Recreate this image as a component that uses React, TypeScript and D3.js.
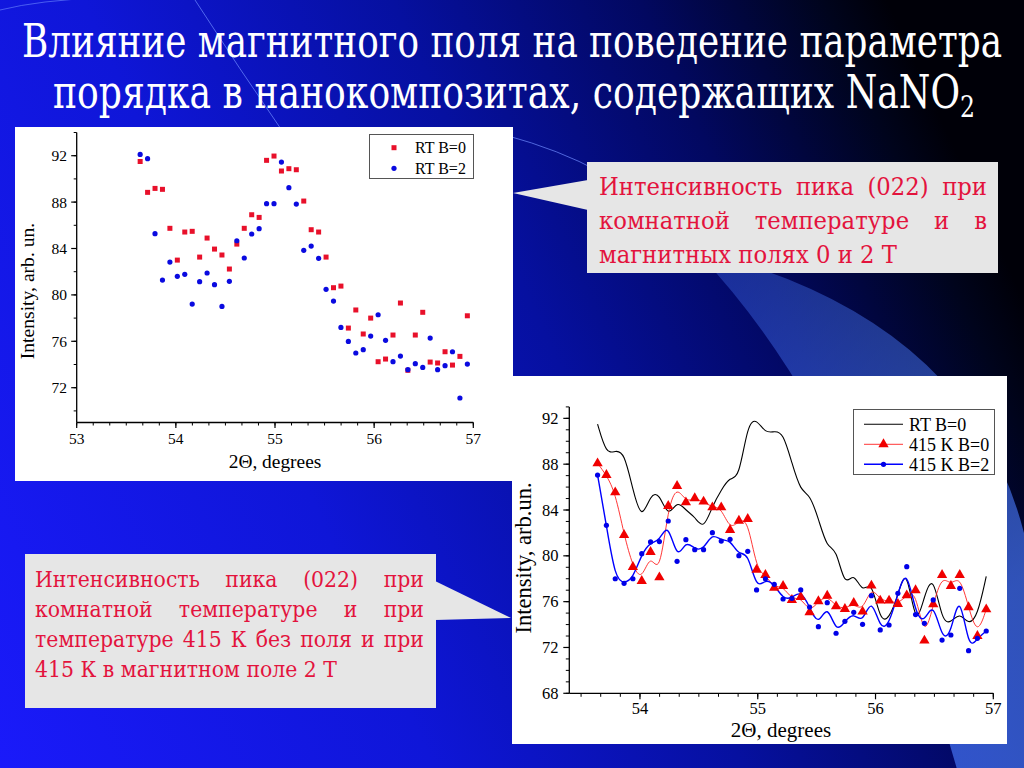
import { useLayoutEffect, useRef, useState } from "react"
import * as d3 from "d3"

// 2Θ positions shared by all series (degrees)
const twoTheta = [
  53.64, 53.715, 53.79, 53.865, 53.94, 54.015, 54.09, 54.165, 54.24, 54.315,
  54.39, 54.465, 54.54, 54.615, 54.69, 54.765, 54.84, 54.915, 54.99, 55.065,
  55.14, 55.215, 55.29, 55.365, 55.44, 55.515, 55.59, 55.665, 55.74, 55.815,
  55.89, 55.965, 56.04, 56.115, 56.19, 56.265, 56.34, 56.415, 56.49, 56.565,
  56.64, 56.715, 56.79, 56.865, 56.94,
]

// room temperature, B = 0
const rtB0 = [
  91.5, 88.84, 89.18, 89.1, 85.74, 83.0, 85.42, 85.48, 83.26, 84.9,
  83.95, 83.44, 82.23, 84.38, 85.74, 86.91, 86.68, 91.6, 91.97, 90.68,
  90.88, 90.79, 88.09, 85.62, 85.42, 83.26, 80.62, 80.76, 77.14, 78.7,
  76.63, 78.0, 74.24, 74.47, 76.54, 79.3, 73.5, 76.54, 78.5, 74.21,
  74.13, 75.1, 73.95, 74.7, 78.2,
]

// room temperature, B = 2
const rtB2 = [
  92.11, 91.74, 85.28, 81.28, 82.83, 81.6, 81.77, 79.21, 81.14, 81.89,
  80.88, 79.01, 81.17, 84.67, 83.18, 85.25, 85.71, 87.86, 87.86, 91.45,
  89.24, 87.83, 83.84, 84.21, 83.15, 80.48, 79.47, 77.2, 75.99, 74.99,
  75.28, 76.45, 78.29, 76.08, 74.24, 74.73, 73.55, 74.07, 73.75, 76.28,
  73.55, 73.9, 75.1, 71.11, 74.04,
]

// 415 K, B = 0
const k415B0 = [
  88.07, 87.05, 85.54, 81.82, 79.03, 77.8, 80.33, 78.12, 84.35, 86.09,
  84.67, 85.02, 84.73, 84.23, 84.23, 82.25, 83.07, 83.21, 78.79, 78.33,
  77.22, 77.37, 76.15, 76.41, 75.07, 76.03, 76.52, 75.59, 75.36, 75.88,
  75.13, 77.4, 76.09, 76.09, 75.8, 76.55, 76.99, 72.6, 75.77, 78.33,
  77.37, 78.33, 75.51, 73.0, 75.33,
]

// 415 K, B = 2
const k415B2 = [
  87.05, 82.66, 78.0, 77.6, 78.0, 80.19, 81.21, 81.24, 83.04, 79.52,
  81.41, 80.54, 80.54, 82.02, 81.29, 81.44, 80.01, 80.39, 77.02, 78.0,
  77.51, 76.23, 76.29, 77.02, 75.53, 73.82, 75.91, 73.24, 74.28, 75.07,
  74.02, 76.52, 73.53, 73.96, 76.73, 79.05, 74.87, 74.11, 76.15, 72.65,
  73.09, 77.16, 71.72, 72.8, 73.44,
]

const xTicks1 = [53, 54, 55, 56, 57]
const yTicks1 = [72, 76, 80, 84, 88, 92]
const xTicks2 = [54, 55, 56, 57]
const yTicks2 = [68, 72, 76, 80, 84, 88, 92]

const titleLine1 = "Влияние магнитного поля на поведение параметра"
const titleLine2 = "порядка в нанокомпозитах, содержащих NaNO"

const noteRight = ["Интенсивность пика (022) при", "комнатной температуре и в", "магнитных полях 0 и 2 Т"]
const noteLeft = [
  "Интенсивность пика (022) при",
  "комнатной температуре и при",
  "температуре 415 К без поля и при",
  "415 К в магнитном поле 2 Т",
]

// Liberation Serif here has no Cyrillic, so Russian text goes in DejaVu Serif
const serif = "Liberation Serif, serif"
const cyrSerif = "DejaVu Serif"
const noteRed = "#e3133d"
const noteGray = "#e6e6e6"

interface JustifiedProps {
  lines: string[]
  x0: number
  x1: number
  y0: number
  lineHeight: number
  size: number
  lastWidth: number
}

// paragraph with justified lines (last line left aligned), squeezed so the
// last line has the width it has on the slide
const Justified = ({ lines, x0, x1, y0, lineHeight, size, lastWidth }: JustifiedProps) => {
  const ref = useRef<SVGGElement | null>(null)
  const [layout, setLayout] = useState<{ sx: number; pos: number[][] } | null>(null)

  useLayoutEffect(() => {
    if (!ref.current) return
    const texts = Array.from(ref.current.querySelectorAll("text"))
    const space = size * 0.318
    const widths = texts.map((t) =>
      (Array.from(t.querySelectorAll("tspan")) as SVGTSpanElement[]).map((s) => s.getComputedTextLength()),
    )
    const lastW = widths[widths.length - 1]
    const natural = d3.sum(lastW) + space * (lastW.length - 1)
    const sx = lastWidth / natural
    const localW = (x1 - x0) / sx
    const pos = widths.map((ws, li) => {
      const last = li === lines.length - 1
      const gap = last || ws.length < 2 ? space : (localW - d3.sum(ws)) / (ws.length - 1)
      let x = 0
      return ws.map((w) => {
        const p = x
        x += w + gap
        return p
      })
    })
    setLayout({ sx, pos })
  }, [lines, x0, x1, size, lastWidth])

  return (
    <g
      ref={ref}
      transform={`translate(${x0},0) scale(${layout ? layout.sx : 1},1)`}
      style={{ fontFamily: cyrSerif }}
      fontSize={size}
      fill={noteRed}
    >
      {lines.map((line, li) => (
        <text key={li} y={y0 + li * lineHeight}>
          {line.split(" ").map((w, wi) => (
            <tspan key={wi} x={layout ? layout.pos[li][wi] : wi * 60}>
              {w}
            </tspan>
          ))}
        </text>
      ))}
    </g>
  )
}

const App = () => {
  // left chart scales
  const xs1 = d3.scaleLinear().domain([53, 57]).range([76.7, 473.3])
  const ys1 = d3.scaleLinear().domain([69, 94]).range([422.5, 132.5])
  // right chart scales
  const xs2 = d3.scaleLinear().domain([53.4, 57]).range([569.3, 993.3])
  const ys2 = d3.scaleLinear().domain([68, 93]).range([693.3, 406.9])

  const minorX1 = d3.range(0, 25).map((i) => 53 + i / 6)
  const minorY1 = d3.range(70, 95, 2)
  const minorX2 = d3.range(0, 22).map((i) => 53.5 + i / 6)
  const minorY2 = d3.range(68, 94, 1)

  const smooth = (vals: number[]) =>
    d3
      .line<number>()
      .x((_, i) => xs2(twoTheta[i]))
      .y((d) => ys2(d))
      .curve(d3.curveBasis)(vals) || ""

  const tri = d3.symbol(d3.symbolTriangle, 46)() || ""

  return (
    <svg width={1024} height={768} style={{ position: "absolute", left: 0, top: 0, display: "block" }}>
      <defs>
        <linearGradient id="bg" gradientUnits="userSpaceOnUse" x1={0} y1={768} x2={1024} y2={300}>
          <stop offset="0" stopColor="#1a1afa" />
          <stop offset="0.35" stopColor="#0f16d8" />
          <stop offset="0.6" stopColor="#0610a0" />
          <stop offset="0.8" stopColor="#020860" />
          <stop offset="0.95" stopColor="#00041c" />
          <stop offset="1" stopColor="#000008" />
        </linearGradient>
        <linearGradient id="beam" gradientUnits="userSpaceOnUse" x1={700} y1={250} x2={1000} y2={600}>
          <stop offset="0" stopColor="#4a7cff" stopOpacity={0.3} />
          <stop offset="1" stopColor="#4a7cff" stopOpacity={0.65} />
        </linearGradient>
      </defs>

      {/* slide background */}
      <rect width={1024} height={768} fill="url(#bg)" />
      <path d="M695 250 Q985 320 1030 560 L1030 780 L960 780 Q860 420 695 250 Z" fill="url(#beam)" />
      <path d="M0 10 Q40 0 100 -2" fill="none" stroke="#6f8cff" strokeOpacity={0.6} />
      <path d="M195 0 Q240 70 285 135" fill="none" stroke="#6f8cff" strokeOpacity={0.7} />
      <path d="M505 135 Q560 150 600 172" fill="none" stroke="#6f8cff" strokeOpacity={0.7} />

      {/* title */}
      <g style={{ fontFamily: cyrSerif }} fill="#fff" fontSize={46}>
        <text x={22} y={57} textLength={980} lengthAdjust="spacingAndGlyphs">
          {titleLine1}
        </text>
        <text x={53} y={108} textLength={922} lengthAdjust="spacingAndGlyphs">
          {titleLine2}
          <tspan dy={9} fontSize={30}>
            2
          </tspan>
        </text>
      </g>

      {/* left chart: RT, B=0 and B=2 */}
      <rect x={15} y={127} width={498} height={354} fill="#fff" />
      <g fontFamily={serif} fill="#000">
        <line x1={xs1(53)} x2={xs1(57)} y1={ys1(69)} y2={ys1(69)} stroke="#000" strokeWidth={1.3} />
        <line x1={xs1(53)} x2={xs1(53)} y1={ys1(69)} y2={ys1(94)} stroke="#000" strokeWidth={1.3} />
        {minorX1.map((v) => (
          <line key={v} x1={xs1(v)} x2={xs1(v)} y1={ys1(69)} y2={ys1(69) + 3} stroke="#000" />
        ))}
        {xTicks1.map((v) => (
          <g key={v}>
            <line x1={xs1(v)} x2={xs1(v)} y1={ys1(69)} y2={ys1(69) + 5.5} stroke="#000" strokeWidth={1.2} />
            <text x={xs1(v)} y={444} fontSize={15.5} textAnchor="middle">
              {v}
            </text>
          </g>
        ))}
        {minorY1.map((v) => (
          <line key={v} x1={xs1(53) - 3} x2={xs1(53)} y1={ys1(v)} y2={ys1(v)} stroke="#000" />
        ))}
        {yTicks1.map((v) => (
          <g key={v}>
            <line x1={xs1(53) - 5.5} x2={xs1(53)} y1={ys1(v)} y2={ys1(v)} stroke="#000" strokeWidth={1.2} />
            <text x={67} y={ys1(v)} fontSize={15.5} textAnchor="end" dominantBaseline="central">
              {v}
            </text>
          </g>
        ))}
        <text x={275} y={468} fontSize={19.4} textAnchor="middle">
          2Θ, degrees
        </text>
        <text
          transform="translate(27,291) rotate(-90)"
          fontSize={19.6}
          textAnchor="middle"
          dominantBaseline="central"
        >
          Intensity, arb. un.
        </text>

        {rtB0.map((v, i) => (
          <rect key={i} x={xs1(twoTheta[i]) - 2.5} y={ys1(v) - 2.5} width={5} height={5} fill="#e8102a" />
        ))}
        {rtB2.map((v, i) => (
          <circle key={i} cx={xs1(twoTheta[i])} cy={ys1(v)} r={2.6} fill="#0a0ae0" />
        ))}

        <rect x={369.5} y={134.5} width={104} height={44} fill="#fff" stroke="#555" />
        <rect x={391.5} y={145.2} width={5} height={5} fill="#e8102a" />
        <circle cx={394} cy={168.3} r={2.6} fill="#0a0ae0" />
        <text x={415} y={153.3} fontSize={16}>
          RT B=0
        </text>
        <text x={415} y={173.9} fontSize={16}>
          RT B=2
        </text>
      </g>

      {/* right callout */}
      <polygon points="513,193 588,180 588,210" fill={noteGray} />
      <rect x={587} y={162} width={411} height={111} fill={noteGray} />
      <Justified lines={noteRight} x0={599} x1={987} y0={195} lineHeight={34} size={24} lastWidth={298} />

      {/* right chart: RT B=0 vs 415 K */}
      <rect x={512} y={376} width={495} height={368} fill="#fff" />
      <g fontFamily={serif} fill="#000">
        <line x1={xs2(53.4)} x2={xs2(57)} y1={ys2(68)} y2={ys2(68)} stroke="#000" strokeWidth={1.3} />
        <line x1={xs2(53.4)} x2={xs2(53.4)} y1={ys2(68)} y2={ys2(93)} stroke="#000" strokeWidth={1.3} />
        {minorX2.map((v) => (
          <line key={v} x1={xs2(v)} x2={xs2(v)} y1={ys2(68)} y2={ys2(68) + 3.5} stroke="#000" />
        ))}
        {xTicks2.map((v) => (
          <g key={v}>
            <line x1={xs2(v)} x2={xs2(v)} y1={ys2(68)} y2={ys2(68) + 6} stroke="#000" strokeWidth={1.2} />
            <text x={xs2(v)} y={714} fontSize={16.5} textAnchor="middle">
              {v}
            </text>
          </g>
        ))}
        {minorY2.map((v) => (
          <line key={v} x1={xs2(53.4) - 3.5} x2={xs2(53.4)} y1={ys2(v)} y2={ys2(v)} stroke="#000" />
        ))}
        {yTicks2.map((v) => (
          <g key={v}>
            <line x1={xs2(53.4) - 6} x2={xs2(53.4)} y1={ys2(v)} y2={ys2(v)} stroke="#000" strokeWidth={1.2} />
            <text x={558.5} y={ys2(v)} fontSize={16.5} textAnchor="end" dominantBaseline="central">
              {v}
            </text>
          </g>
        ))}
        <text x={781} y={737} fontSize={21} textAnchor="middle">
          2Θ, degrees
        </text>
        <text
          transform="translate(523,558) rotate(-90)"
          fontSize={22.5}
          textAnchor="middle"
          dominantBaseline="central"
        >
          Intensity, arb.un.
        </text>

        <path d={smooth(rtB0)} fill="none" stroke="#000" strokeWidth={1.1} />
        <path d={smooth(k415B0)} fill="none" stroke="#ff2020" strokeWidth={0.9} />
        <path d={smooth(k415B2)} fill="none" stroke="#0000ff" strokeWidth={1.4} />
        {k415B0.map((v, i) => (
          <path key={i} d={tri} transform={`translate(${xs2(twoTheta[i])},${ys2(v)})`} fill="#f00000" />
        ))}
        {k415B2.map((v, i) => (
          <circle key={i} cx={xs2(twoTheta[i])} cy={ys2(v)} r={2.6} fill="#0000e8" />
        ))}

        <rect x={853.5} y={409.5} width={141} height={65} fill="#fff" stroke="#555" />
        <line x1={864} x2={903} y1={424.3} y2={424.3} stroke="#000" strokeWidth={1.1} />
        <line x1={864} x2={903} y1={444.3} y2={444.3} stroke="#ff2020" strokeWidth={0.9} />
        <path d={tri} transform="translate(883.5,444.3)" fill="#f00000" />
        <line x1={864} x2={903} y1={464.3} y2={464.3} stroke="#0000ff" strokeWidth={1.4} />
        <circle cx={883.5} cy={464.3} r={2.6} fill="#0000e8" />
        <text x={909} y={430.5} fontSize={18}>
          RT B=0
        </text>
        <text x={909} y={450.5} fontSize={18}>
          415 K B=0
        </text>
        <text x={909} y={470.5} fontSize={18}>
          415 K B=2
        </text>
      </g>

      {/* left callout */}
      <polygon points="435,581 511,618 435,620" fill={noteGray} />
      <rect x={25} y={554} width={411} height={154} fill={noteGray} />
      <Justified lines={noteLeft} x0={35} x1={424} y0={587} lineHeight={30} size={23} lastWidth={302} />
    </svg>
  )
}

export default App
